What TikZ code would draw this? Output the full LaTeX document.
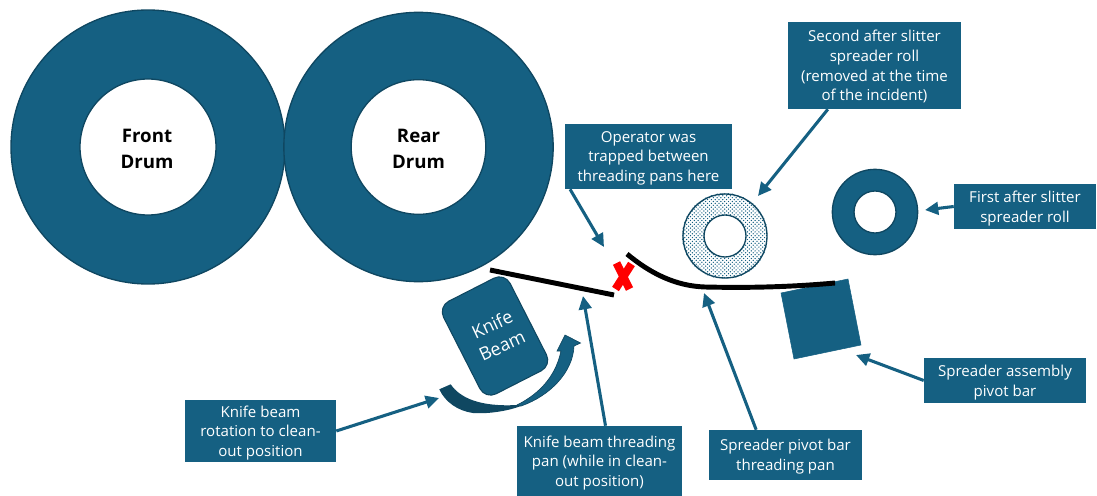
\documentclass[tikz,border=0pt]{standalone}
\usepackage{fontspec}
\setmainfont{Open Sans}
\usetikzlibrary{arrows.meta,calc}
\definecolor{teal}{HTML}{156082}
\definecolor{darkteal}{HTML}{0F4761}
\tikzset{
  x=0.75pt,y=-0.75pt,
  label box/.style={fill=teal,text=white,align=center,inner sep=0pt,text depth=0pt,font=\fontsize{11.3}{14.8}\selectfont},
  ring/.style={circle,draw=darkteal,line width=1pt,fill=teal,inner sep=0pt},
  hole/.style={circle,draw=darkteal,line width=1pt,fill=white,inner sep=0pt,align=center},
  drum text/.style={align=center,font=\fontsize{14}{19.5}\selectfont\bfseries},
  callout/.style={draw=teal,line width=2.3pt,-{Triangle[length=10pt,width=9.5pt]}},
  pan/.style={draw=black,line width=3.7pt},
}
\begin{document}
\begin{tikzpicture}
\useasboundingbox (0,0) rectangle (1097,496);
% drums
\node[ring,minimum size=205.5pt] (frontOuter) at (148,147) {};
\node[hole,minimum size=102pt] (frontInner) at (148,147) {};
\node[drum text] (frontText) at (147,149) {Front\\Drum};
\node[ring,minimum size=202pt] (rearOuter) at (418.5,147) {};
\node[hole,minimum size=101pt] (rearInner) at (418.5,147) {};
\node[drum text] (rearText) at (418.5,149) {Rear\\Drum};
% rolls
\begin{scope}
\clip (725,236) circle[radius=43];
\foreach \j in {0,...,46}{\foreach \i in {0,...,23}{
  \fill[teal] ({681+3.8*\i+1.9*mod(\j,2)},{192+1.9*\j}) circle[radius=0.72];
}}
\end{scope}
\node[circle,draw=darkteal,line width=1pt,minimum size=63pt,inner sep=0pt] (secondOuter) at (725,236) {};
\node[hole,minimum size=31.5pt] (secondInner) at (725,236) {};
\node[ring,minimum size=64pt] (firstOuter) at (875,212) {};
\node[hole,minimum size=31.5pt] (firstInner) at (875,212) {};
% knife beam
\node[fill=teal,draw=darkteal,line width=.8pt,rounded corners=9pt,rotate=27,minimum width=56pt,minimum height=78pt,inner sep=0pt] (beam) at (495,336) {};
\node[rotate=25,text=white,align=center,font=\fontsize{13.5}{17.5}\selectfont] (beamText) at (497,335) {Knife\\Beam};
% pivot square
\draw[fill=teal,draw=teal] (781,293) -- (848,279) -- (861,345) -- (794,359) -- cycle;
% pans
\draw[pan] (490,270) -- (614,295);
\draw[pan] (627,254) .. controls (650,273) and (675,286) .. (705,287) .. controls (750,288) and (790,287) .. (835,283);
% red cross
\draw[red,line width=6pt] (616.5,263) -- (629.5,289);
\draw[red,line width=6pt] (631.5,264) -- (615.5,289);
% curved arrow
\fill[darkteal] (439.3,389.3) -- (450.7,384.3)
  .. controls (460,398) and (480,407) .. (517,405)
  -- (521,406)
  .. controls (505,412) and (485,414) .. (473,413)
  .. controls (458,411) and (445,402) .. (439.3,389.3) -- cycle;
\draw[fill=teal,draw=darkteal,line width=.5pt] (517,405)
  .. controls (535,396) and (555,380) .. (561,351)
  -- (557,351) -- (565,335) -- (580.5,343) -- (574,346)
  .. controls (573,372) and (550,396) .. (521,406) -- cycle;
% label boxes
\node[label box,minimum width=113.25pt,minimum height=46.5pt] (knifeRot) at (260.5,431) {Knife beam\\rotation to clean-\\out position};
\node[label box,minimum width=123.75pt,minimum height=52.5pt] (knifePan) at (599.5,461) {Knife beam threading\\pan (while in clean-\\out position)};
\node[label box,minimum width=114.75pt,minimum height=37.5pt] (spreadPan) at (785.5,455) {Spreader pivot bar\\threading pan};
\node[label box,minimum width=121.5pt,minimum height=33.75pt] (assembly) at (1005,380.5) {Spreader assembly\\pivot bar};
\node[label box,minimum width=106.5pt,minimum height=33.75pt] (first) at (1025,206.5) {First after slitter\\spreader roll};
\node[label box,minimum width=129.75pt,minimum height=65.25pt] (second) at (874.5,65.5) {Second after slitter\\spreader roll\\(removed at the time\\of the incident)};
\node[label box,minimum width=125.25pt,minimum height=48.75pt] (operator) at (648.5,156.5) {Operator was\\trapped between\\threading pans here};
% arrow tips
\coordinate (tipRot) at (439,398);
\coordinate (tipKnifePan) at (583,296);
\coordinate (tipSpreadPan) at (704,293);
\coordinate (tipAssembly) at (856,355);
\coordinate (tipFirst) at (925,210);
\coordinate (tipSecond) at (758,196);
\coordinate (tipOperator) at (604,247);
\draw[callout] (knifeRot.east) -- (tipRot);
\draw[callout] ([xshift=4.5pt]knifePan.north) -- (tipKnifePan);
\draw[callout] ([xshift=-22pt]spreadPan.north) -- (tipSpreadPan);
\draw[callout] (assembly.west) -- (tipAssembly);
\draw[callout] (first.west) -- (tipFirst);
\draw[callout] ([xshift=-35pt]second.south) -- (tipSecond);
\draw[callout] ([xshift=4pt]operator.south west) -- (tipOperator);
\end{tikzpicture}
\end{document}
